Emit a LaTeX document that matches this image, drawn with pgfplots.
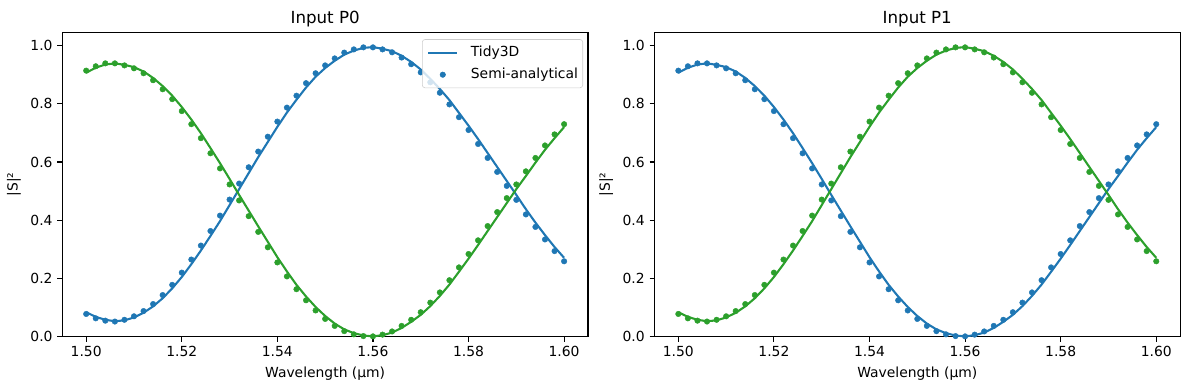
\documentclass[border=0pt]{standalone}
\usepackage{fontspec}
\setmainfont{DejaVu Sans}
\usepackage{pgfplots}
\usepackage{pgfplotstable}
\pgfplotsset{compat=1.18}
\definecolor{tabblue}{HTML}{1F77B4}
\definecolor{tabgreen}{HTML}{2CA02C}

% bd/bl: first output (dots / line), gd/gl: second output (dots / line), for input P0
\pgfplotstableread{
x     bd    bl    gd    gl
1.500 0.078 0.084 0.914 0.907
1.502 0.063 0.068 0.929 0.924
1.504 0.055 0.058 0.939 0.935
1.506 0.052 0.053 0.939 0.939
1.508 0.058 0.056 0.932 0.934
1.510 0.070 0.066 0.922 0.926
1.512 0.088 0.082 0.905 0.911
1.514 0.112 0.104 0.881 0.889
1.516 0.143 0.132 0.850 0.861
1.518 0.178 0.166 0.816 0.828
1.520 0.220 0.205 0.775 0.789
1.522 0.265 0.249 0.730 0.746
1.524 0.313 0.296 0.682 0.699
1.526 0.363 0.346 0.630 0.648
1.528 0.416 0.397 0.578 0.596
1.530 0.471 0.452 0.523 0.542
1.532 0.526 0.507 0.468 0.487
1.534 0.582 0.562 0.414 0.433
1.536 0.636 0.617 0.360 0.379
1.538 0.687 0.669 0.307 0.326
1.540 0.739 0.721 0.255 0.273
1.542 0.787 0.770 0.207 0.224
1.544 0.828 0.814 0.163 0.178
1.546 0.871 0.856 0.125 0.138
1.548 0.905 0.893 0.090 0.102
1.550 0.932 0.923 0.061 0.071
1.552 0.956 0.948 0.037 0.045
1.554 0.976 0.969 0.019 0.025
1.556 0.987 0.983 0.008 0.012
1.558 0.994 0.992 0.002 0.004
1.560 0.994 0.995 0.001 0.001
1.562 0.987 0.989 0.007 0.005
1.564 0.977 0.981 0.018 0.014
1.566 0.959 0.965 0.037 0.030
1.568 0.936 0.944 0.058 0.051
1.570 0.908 0.918 0.084 0.075
1.572 0.874 0.886 0.117 0.105
1.574 0.838 0.851 0.152 0.140
1.576 0.798 0.813 0.194 0.179
1.578 0.754 0.769 0.238 0.223
1.580 0.710 0.725 0.284 0.268
1.582 0.662 0.679 0.331 0.315
1.584 0.614 0.631 0.380 0.363
1.586 0.566 0.583 0.428 0.411
1.588 0.518 0.535 0.476 0.459
1.590 0.470 0.487 0.523 0.507
1.592 0.420 0.438 0.568 0.552
1.594 0.377 0.392 0.614 0.598
1.596 0.334 0.349 0.657 0.642
1.598 0.294 0.308 0.695 0.682
1.600 0.259 0.271 0.730 0.720
}\datatab

\pgfplotsset{
  myaxis/.style={
    scale only axis, width=378.5pt, height=219.2pt,
    xmin=1.495, xmax=1.605, ymin=0, ymax=1.046,
    xtick={1.5,1.52,1.54,1.56,1.58,1.6},
    ytick={0,0.2,0.4,0.6,0.8,1.0},
    xticklabel={\pgfmathprintnumber[fixed,fixed zerofill,precision=2]{\tick}},
    yticklabel={\pgfmathprintnumber[fixed,fixed zerofill,precision=1]{\tick}},
    scaled x ticks=false, scaled y ticks=false,
    /pgf/number format/assume math mode=true,
    tick align=outside, major tick length=3.5pt,
    tick style={black, line width=0.8pt},
    axis line style={line width=0.8pt},
    xtick pos=lower, ytick pos=left,
    tick label style={font=\fontsize{10}{12}\selectfont},
    label style={font=\fontsize{10}{12}\selectfont},
    title style={font=\fontsize{12}{14}\selectfont, yshift=-5.8pt},
    xlabel={Wavelength (µm)}, ylabel={|S|²},
    clip=false,
  },
  linestyle/.style={line width=1.5pt, #1, no marks},
  dotstyle/.style={only marks, mark=*, mark size=2.0pt, mark options={draw=#1, fill=#1, line width=0.3pt}},
  lineleg/.style={legend image code/.code={\draw[##1, draw opacity=1] (0pt,0pt) -- (21pt,0pt);}},
  dotleg/.style={legend image code/.code={\path[draw=none, fill=none] (0pt,0pt) rectangle (21pt,0pt); \draw[##1, fill opacity=1, draw opacity=1] plot coordinates {(10.5pt,0pt)};}},
}

\begin{document}
\begin{tikzpicture}
\path[use as bounding box] (0,0) rectangle (856.08pt,280.8pt);
\begin{axis}[myaxis, at={(44.86pt,38.4pt)}, anchor=south west,
  title={Input P0},
  legend style={at={(0.9905,0.977)}, anchor=north east, draw=black!20,
    fill=white, fill opacity=0.8, text opacity=1, rounded corners=2pt,
    font=\fontsize{10}{12}\selectfont, inner xsep=3.5pt, inner ysep=4.6pt,
    row sep=6.2pt, column sep=9pt,
    nodes={inner sep=0pt, text height=7.5pt, text depth=2.2pt}},
  legend cell align=left]
\addplot[linestyle=tabblue, lineleg] table[x=x,y=bl] {\datatab};
\addlegendentry{Tidy3D}
\addplot[dotstyle=tabblue, dotleg] table[x=x,y=bd] {\datatab};
\addlegendentry{Semi-analytical}
\addplot[linestyle=tabgreen, forget plot] table[x=x,y=gl] {\datatab};
\addplot[dotstyle=tabgreen, forget plot] table[x=x,y=gd] {\datatab};
\end{axis}
\begin{axis}[myaxis, at={(471.2pt,38.4pt)}, anchor=south west,
  title={Input P1}]
\addplot[linestyle=tabblue] table[x=x,y=gl] {\datatab};
\addplot[dotstyle=tabblue] table[x=x,y=gd] {\datatab};
\addplot[linestyle=tabgreen] table[x=x,y=bl] {\datatab};
\addplot[dotstyle=tabgreen] table[x=x,y=bd] {\datatab};
\end{axis}
\end{tikzpicture}
\end{document}
